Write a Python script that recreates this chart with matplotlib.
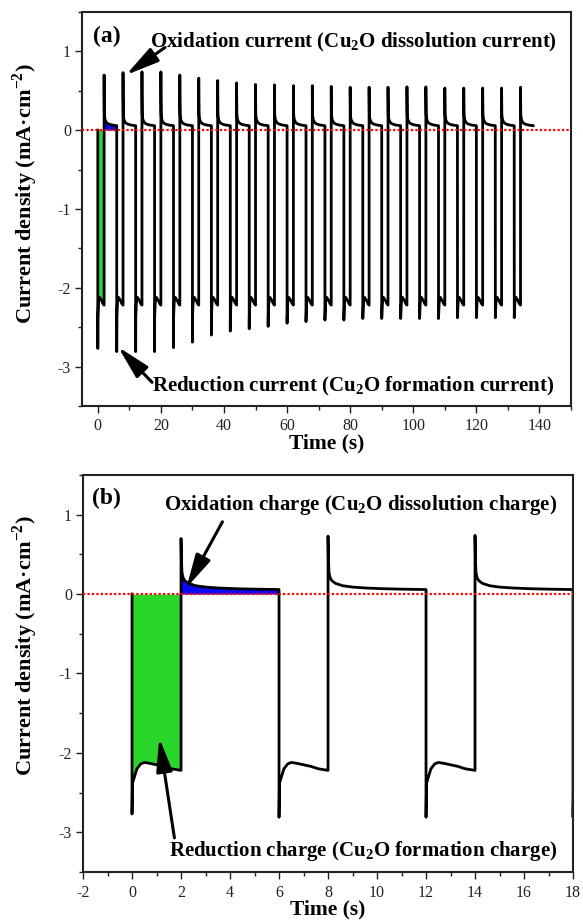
import matplotlib
matplotlib.use('Agg')
import numpy as np
from matplotlib import pyplot as plt
from matplotlib.ticker import MultipleLocator

plt.rcParams['font.family'] = ['Liberation Serif', 'DejaVu Serif']
plt.rcParams['mathtext.fontset'] = 'custom'
plt.rcParams['mathtext.rm'] = 'Liberation Serif'
plt.rcParams['mathtext.bf'] = 'Liberation Serif:bold'
plt.rcParams['axes.unicode_minus'] = False

# start of every pulse cycle (s): 2 s reduction then 4 s oxidation
cycle_start = [0, 6, 12, 18, 24, 30, 36, 42, 48, 54, 60, 66, 72, 78, 84, 90,
               96, 102, 108, 114, 120, 126, 132]
# tip of the cathodic spike at the start of every cycle (mA cm-2)
spike_min = [-2.77, -2.81, -2.81, -2.81, -2.76, -2.69, -2.60, -2.55, -2.52,
             -2.49, -2.45, -2.43, -2.41, -2.41, -2.39, -2.39, -2.39, -2.39,
             -2.39, -2.37, -2.37, -2.37, -2.36]
# tip of the anodic spike when the oxidation pulse starts
ox_peak = [0.70, 0.73, 0.74, 0.74, 0.70, 0.66, 0.63, 0.60, 0.58, 0.575,
           0.565, 0.565, 0.555, 0.545, 0.545, 0.545, 0.55, 0.55, 0.535,
           0.535, 0.535, 0.535, 0.545]

# shape of the reduction plateau, time from cycle start (s)
red_t = [0.02, 0.1, 0.2, 0.35, 0.5, 0.7, 1.0, 1.3, 1.6, 2.0]
red_j = [-2.38, -2.30, -2.20, -2.14, -2.12, -2.13, -2.15, -2.17, -2.20, -2.22]

# shape of the oxidation decay, time from start of oxidation (s)
ox_t = [0.015, 0.04, 0.08, 0.15, 0.3, 0.6, 1.0, 1.5, 2.2, 3.0, 4.0]
ox_j = [0.45, 0.27, 0.21, 0.17, 0.135, 0.105, 0.088, 0.077, 0.068, 0.062,
        0.057]

RED_LEN = 2.0


def build_trace():
    """Sklada caly przebieg pradu z kolejnych cykli."""
    t = [0.0]
    j = [0.0]
    for t0, jmin, jpeak in zip(cycle_start, spike_min, ox_peak):
        t += [t0]
        j += [jmin]
        t += [t0 + x for x in red_t]
        j += red_j
        t += [t0 + RED_LEN]
        j += [jpeak]
        t += [t0 + RED_LEN + x for x in ox_t]
        j += ox_j
    return np.array(t), np.array(j)


def style_axes(ax, xmajor, xminor):
    ax.set_ylim(-3.5, 1.5)
    ax.xaxis.set_major_locator(MultipleLocator(xmajor))
    ax.xaxis.set_minor_locator(MultipleLocator(xminor))
    ax.yaxis.set_major_locator(MultipleLocator(1))
    ax.yaxis.set_minor_locator(MultipleLocator(0.5))
    ax.tick_params(which='both', direction='out', top=False, right=False,
                   width=1.0, colors='#222222', labelsize=11.5)
    ax.tick_params(which='major', length=5)
    ax.tick_params(which='minor', length=3)
    ax.tick_params(axis='x', pad=4)
    ax.tick_params(axis='y', pad=3)
    for s in ax.spines.values():
        s.set_linewidth(1.5)
        s.set_color('#222222')
    ax.set_xlabel('Time (s)', fontsize=15.5, fontweight='bold', labelpad=-1)
    ax.set_ylabel(r'Current density (mA·cm$^{\mathbf{-2}}$)', fontsize=16,
                  fontweight='bold')


def draw_trace(ax, t, j):
    # ladunek redukcji i utleniania w pierwszym cyklu
    ax.fill_between([0.0] + red_t, [red_j[0]] + red_j, 0,
                    color='#2bd62b', lw=0, zorder=1)
    ax.fill_between([RED_LEN] + [RED_LEN + x for x in ox_t],
                    [ox_j[0]] + ox_j, 0, color='#0a0aff', lw=0, zorder=1)
    ax.plot(t, j, color='black', lw=2.0, zorder=2)
    ax.axhline(0, color='red', lw=1.6, linestyle=(0, (1, 1.0)), zorder=3)


def arrow(ax, head, tail):
    ax.annotate('', xy=head, xytext=tail,
                arrowprops=dict(arrowstyle='-|>,head_length=0.75,head_width=0.18',
                                mutation_scale=27, lw=2.2, color='black',
                                shrinkA=0, shrinkB=0), zorder=4)


t, j = build_trace()

fig = plt.figure(figsize=(5.83, 9.21), dpi=100)
ax1 = fig.add_axes([0.1407, 0.5592, 0.8387, 0.4278])
ax2 = fig.add_axes([0.1424, 0.0532, 0.8405, 0.4311])

# (a) caly pomiar
draw_trace(ax1, t, j)
ax1.set_xlim(-5, 150)
style_axes(ax1, 20, 10)
ax1.yaxis.set_label_coords(-0.085, 0.54)
ax1.text(-1.6, 1.12, '(a)', fontsize=17, fontweight='bold')
ax1.text(16.6, 1.05, r'Oxidation current (Cu$_{\mathbf{2}}$O dissolution current)',
         fontsize=15, fontweight='bold')
ax1.text(17.2, -3.32, r'Reduction current (Cu$_{\mathbf{2}}$O formation current)',
         fontsize=15, fontweight='bold')
arrow(ax1, (8.9, 0.70), (21.3, 1.05))
arrow(ax1, (6.4, -2.75), (17.2, -3.2))

# (b) pierwsze trzy cykle
draw_trace(ax2, t, j)
ax2.set_xlim(-2, 18)
style_axes(ax2, 2, 1)
ax2.yaxis.set_label_coords(-0.087, 0.57)
ax2.text(-1.63, 1.14, '(b)', fontsize=17, fontweight='bold')
ax2.text(1.32, 1.06, r'Oxidation charge (Cu$_{\mathbf{2}}$O dissolution charge)',
         fontsize=15, fontweight='bold')
ax2.text(1.52, -3.30, r'Reduction charge (Cu$_{\mathbf{2}}$O formation charge)',
         fontsize=15, fontweight='bold')
arrow(ax2, (2.22, 0.08), (3.69, 0.91))
arrow(ax2, (1.11, -1.81), (1.73, -3.07))

fig.savefig('out.png', dpi=100)
